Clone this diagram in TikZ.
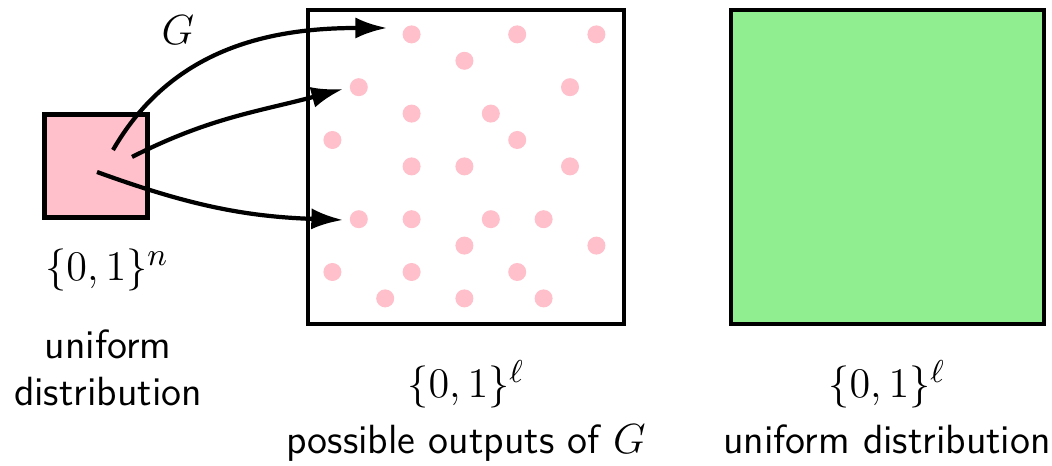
\documentclass[tikz,border=0pt]{standalone}
\usepackage{xcolor}
\usepackage{tikz}
\usetikzlibrary{arrows.meta,positioning,calc}
\definecolor{seedpink}{HTML}{FFC0CB}
\definecolor{unifgreen}{HTML}{90EE90}

\begin{document}
\begin{tikzpicture}[
  x=1cm,y=1cm,
  cube/.style={draw=black,line width=1.3pt,inner sep=0pt},
  setlabel/.style={font=\fontsize{13}{15}\selectfont,inner sep=1pt},
  caption/.style={font=\sffamily\fontsize{11.6}{13.4}\selectfont,align=center,inner sep=0pt},
  gen/.style={-{Latex[length=9pt,width=6pt]},draw=black,line width=1.2pt},
  dot/.style={fill=seedpink}
]
\useasboundingbox (0,0) rectangle (10.52,4.66);
\node[cube,fill=seedpink,minimum size=1.03cm] (seed) at (0.96,3.00) {};
\node[cube,fill=white,minimum width=3.16cm,minimum height=3.14cm] (outputs) at (4.66,2.99) {};
\node[cube,fill=unifgreen,minimum width=3.13cm,minimum height=3.14cm] (uniform) at (8.875,2.99) {};

\node[setlabel] (seedset) at (1.07,1.96) {$\{0,1\}^n$};
\node[caption] (seedcap) at (1.08,0.98) {uniform\\distribution};
\node[setlabel] (outset) at (4.66,0.82) {$\{0,1\}^\ell$};
\node[caption,anchor=base] (outcap) at (4.66,0.12) {possible outputs of $G$};
\node[setlabel] (unifset) at (8.87,0.82) {$\{0,1\}^\ell$};
\node[caption,anchor=base] (unifcap) at (8.87,0.12) {uniform distribution};

% image of G: scattered points
\foreach \i/\j in {4/1,8/1,11/1,6/2,2/3,10/3,4/4,7/4,1/5,8/5,4/6,6/6,10/6,
  2/8,4/8,7/8,9/8,6/9,11/9,1/10,4/10,8/10,3/11,6/11,9/11}
  \fill[dot] (3.06+0.264*\i,4.58-0.264*\j) circle (0.09);

\coordinate (s1) at (1.13,3.16);
\coordinate (s2) at (1.32,3.09);
\coordinate (s3) at (0.97,2.94);
\coordinate (t1) at (3.87,4.38);
\coordinate (t2) at (3.43,3.77);
\coordinate (t3) at (3.43,2.46);
\draw[gen] (s1) to[out=60,in=180] (t1);
\draw[gen] (s2) to[out=27,in=195] (t2);
\draw[gen] (s3) to[out=-20,in=178] (t3);
\node[setlabel] (glabel) at (1.78,4.36) {$G$};
\end{tikzpicture}
\end{document}
